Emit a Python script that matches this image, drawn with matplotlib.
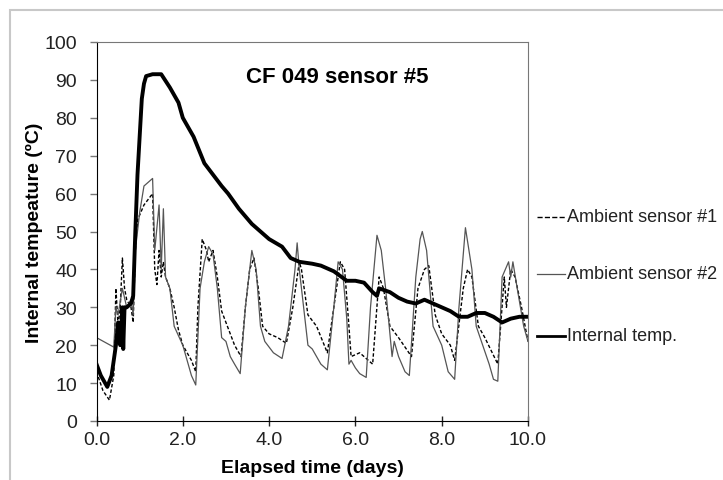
import numpy as np
import matplotlib.pyplot as plt
from matplotlib.patches import Rectangle

# ---------- data ----------
t_int = [0.0, 0.1, 0.25, 0.35, 0.45, 0.5, 0.55, 0.6, 0.62, 0.65, 0.7, 0.8, 0.85, 0.9, 0.95,
         1.0, 1.05, 1.1, 1.15, 1.3, 1.5, 1.7, 1.9, 2.0, 2.25, 2.5, 2.7, 2.9, 3.05, 3.3,
         3.6, 3.8, 4.0, 4.3, 4.5, 4.7, 5.0, 5.2, 5.5, 5.8, 6.0, 6.2, 6.4,
         6.5, 6.55, 6.8, 7.0, 7.2, 7.4, 7.6, 7.8, 8.0, 8.2, 8.4, 8.6, 8.8, 9.0, 9.2,
         9.4, 9.6, 9.8, 10.0]
temp_int = [15, 12, 9, 12, 20, 26, 20, 30, 19, 30, 30, 31, 33, 50, 65,
            75, 85, 89, 91, 91.5, 91.5, 88, 84, 80, 75, 68, 65, 62, 60, 56,
            52, 50, 48, 46, 43, 42, 41.5, 41, 39.5, 37, 37, 36.5, 34,
            33, 35, 34, 32.5, 31.5, 31, 32, 31, 30, 29, 27.5, 27.5, 28.5, 28.5, 27.5,
            26, 27, 27.5, 27.5]

t_amb1 = [0.0, 0.15, 0.3, 0.4, 0.45, 0.5, 0.55, 0.6, 0.65, 0.7, 0.8, 0.85, 0.9, 0.95,
          1.1, 1.3, 1.35, 1.4, 1.45, 1.5, 1.55, 1.6, 1.7, 1.8, 1.9, 2.0, 2.2, 2.3,
          2.35, 2.45, 2.55, 2.6, 2.7, 2.8, 2.9, 3.0, 3.2, 3.35, 3.45, 3.55, 3.65, 3.75,
          3.85, 4.0, 4.2, 4.4, 4.55, 4.7, 4.75, 4.9, 5.1, 5.35, 5.5, 5.65, 5.75, 5.85,
          5.9, 6.1, 6.3, 6.4, 6.55, 6.65, 6.8, 7.0, 7.3, 7.45, 7.6, 7.7, 7.85, 8.0,
          8.2, 8.3, 8.5, 8.6, 8.7, 8.85, 9.0, 9.3, 9.45, 9.5, 9.6, 9.7, 9.85, 10.0]
temp_amb1 = [13, 8, 5.5, 12, 35, 25, 30, 43, 35, 32, 30, 26, 45, 53,
             57, 60, 40, 36, 45, 38, 42, 38, 35, 30, 24, 20, 16, 13,
             30, 48, 45, 42, 45, 38, 29, 26, 20, 17, 30, 40, 43, 35,
             25, 23, 22, 20.5, 30, 42, 40, 28, 25, 18, 30, 42, 40, 25,
             17, 18, 16, 15, 38, 35, 25, 22, 17, 35, 40, 41, 28, 23,
             20, 16, 35, 40, 38, 25, 22, 15, 38, 30, 40, 38, 30, 21]

t_amb2 = [0.0, 0.4, 0.45, 0.5, 0.6, 0.7, 0.8, 0.85, 0.9, 1.0, 1.1, 1.3, 1.35, 1.45,
          1.5, 1.55, 1.6, 1.7, 1.8, 2.0, 2.2, 2.3, 2.4, 2.5, 2.6, 2.7, 2.8, 2.9,
          3.0, 3.1, 3.2, 3.33, 3.45, 3.6, 3.7, 3.8, 3.9, 4.1, 4.3, 4.45, 4.6, 4.65,
          4.7, 4.8, 4.9, 5.0, 5.2, 5.35, 5.5, 5.6, 5.7, 5.8, 5.85, 5.9, 6.0, 6.1,
          6.25, 6.35, 6.5, 6.6, 6.7, 6.85, 6.9, 7.0, 7.15, 7.25, 7.4, 7.5, 7.55, 7.65,
          7.8, 8.0, 8.15, 8.3, 8.4, 8.55, 8.7, 8.8, 8.95, 9.1, 9.2, 9.3, 9.4, 9.55,
          9.6, 9.65, 9.75, 9.9, 10.0]
temp_amb2 = [22, 19.5, 30, 28, 35, 30, 32, 28, 45, 55, 62, 64, 45, 57,
             40, 56, 38, 35, 25, 20, 12, 9.5, 35, 42, 46, 44, 35, 22,
             21, 17, 15, 12.5, 30, 45, 40, 25, 21, 18, 16.5, 25, 40, 47,
             40, 30, 20, 19, 15, 13.5, 30, 42, 40, 27, 15, 16, 14, 12.5,
             11.5, 30, 49, 45, 35, 17, 21, 17, 13, 12, 38, 48, 50, 45,
             25, 20, 13, 11, 30, 51, 40, 25, 20, 15, 11, 10.5, 38, 42,
             38, 42, 35, 25, 21]

x_ticks = [0, 2, 4, 6, 8, 10]
y_ticks = [0, 10, 20, 30, 40, 50, 60, 70, 80, 90, 100]
legend_labels = ['Ambient sensor #1', 'Ambient sensor #2', 'Internal temp.']

plt.rcParams['font.family'] = ['Liberation Sans', 'DejaVu Sans']

fig = plt.figure(figsize=(7.23, 4.81), dpi=100)
# grey chart-area border
fig.patches.append(Rectangle((10 / 723, -0.1), 1.0, 1 - 11 / 481 + 0.1,
                             transform=fig.transFigure, fill=False,
                             edgecolor='#c8c8c8', lw=1.5))

ax = fig.add_axes([96.5 / 723, 1 - 422 / 481, 431.5 / 723, 379 / 481])

l1, = ax.plot(t_amb1, temp_amb1, color='black', lw=1.0, ls=(0, (2.5, 1.5)))
l2, = ax.plot(t_amb2, temp_amb2, color='#555555', lw=0.9)
l3, = ax.plot(t_int, temp_int, color='black', lw=2.8)

ax.set_xlim(0, 10)
ax.set_ylim(0, 100)
ax.set_xticks(x_ticks)
ax.set_xticklabels(['%.1f' % v for v in x_ticks])
ax.set_yticks(y_ticks)
ax.tick_params(axis='both', labelsize=14, colors='#222222', length=5, width=1)
ax.tick_params(axis='y', pad=9, color='#777777')
ax.tick_params(axis='x', direction='inout', length=7)
for s in ['left', 'bottom']:
    ax.spines[s].set_color('black')
for s in ['top', 'right']:
    ax.spines[s].set_color('#777777')

ax.set_xlabel('Elapsed time (days)', fontsize=14, fontweight='bold', labelpad=8)
ax.set_ylabel('Internal tempeature (ºC)', fontsize=14, fontweight='bold', labelpad=1)
ax.text(5.57, 91, 'CF 049 sensor #5', fontsize=16, fontweight='bold',
        ha='center', va='center')

# legend drawn by hand at the right of the plot area
leg_y = [218, 275, 337]
for ln, lab, yy in zip([l1, l2, l3], legend_labels, leg_y):
    yf = 1 - yy / 481
    fig.add_artist(plt.Line2D([537 / 723, 565 / 723], [yf, yf], transform=fig.transFigure,
                              color=ln.get_color(), lw=min(ln.get_linewidth(), 2.0),
                              ls=ln.get_linestyle()))
    fig.text(567 / 723, yf, lab, fontsize=13, va='center', ha='left', color='#222222')

plt.savefig('out.png', dpi=100)
